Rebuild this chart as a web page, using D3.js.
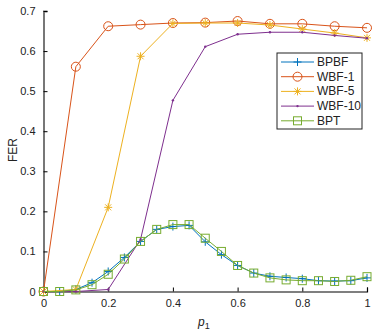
<!DOCTYPE html>
<html>
<head>
<meta charset="utf-8">
<script src="https://cdn.jsdelivr.net/npm/d3@7"></script>
<style>
  body { margin: 0; background: #fff; }
  svg { font-family: "Liberation Sans", Arial, sans-serif; }
</style>
</head>
<body>
<svg class="chart" width="372" height="333"></svg>
<script>
"use strict";

// p1 grids
let pFine = [0, 0.05, 0.1, 0.15, 0.2, 0.25, 0.3, 0.35, 0.4, 0.45, 0.5,
  0.55, 0.6, 0.65, 0.7, 0.75, 0.8, 0.85, 0.9, 0.95, 1];
let pCoarse = [0, 0.1, 0.2, 0.3, 0.4, 0.5, 0.6, 0.7, 0.8, 0.9, 1];

// FER per method
let bpbf = [0, 0, 0.005, 0.022, 0.05, 0.085, 0.125, 0.155, 0.162, 0.165, 0.124,
  0.092, 0.065, 0.046, 0.038, 0.035, 0.032, 0.027, 0.026, 0.027, 0.034];
let wbf1 = [0, 0.561, 0.662, 0.666, 0.670, 0.671, 0.675, 0.668, 0.668, 0.662, 0.658];
let wbf5 = [0, 0.005, 0.21, 0.587, 0.669, 0.670, 0.670, 0.665, 0.655, 0.645, 0.633];
let wbf10 = [0, 0, 0.005, 0.13, 0.477, 0.611, 0.642, 0.647, 0.647, 0.639, 0.632];
let bpt = [0, 0, 0.004, 0.017, 0.043, 0.081, 0.125, 0.155, 0.167, 0.167, 0.133,
  0.1, 0.065, 0.046, 0.034, 0.029, 0.027, 0.027, 0.025, 0.028, 0.037];

let xTicks = [0, 0.2, 0.4, 0.6, 0.8, 1];
let yTicks = [0, 0.1, 0.2, 0.3, 0.4, 0.5, 0.6, 0.7];

let series = [
  { name: 'BPBF', xs: pFine, ys: bpbf, color: '#0072BD', marker: 'plus' },
  { name: 'WBF-1', xs: pCoarse, ys: wbf1, color: '#D95319', marker: 'circle' },
  { name: 'WBF-5', xs: pCoarse, ys: wbf5, color: '#EDB120', marker: 'star' },
  { name: 'WBF-10', xs: pCoarse, ys: wbf10, color: '#7E2F8E', marker: 'dot' },
  { name: 'BPT', xs: pFine, ys: bpt, color: '#77AC30', marker: 'square' }
];

let svg = d3.select('.chart');

let x = d3.scaleLinear().domain([0, 1]).range([43.5, 367]);
let y = d3.scaleLinear().domain([0, 0.7]).range([291.5, 11]);

// axes (MATLAB style: ticks inside)
let xAxis = svg.append('g')
  .attr('transform', 'translate(0,' + y(0) + ')')
  .call(d3.axisBottom(x).tickValues(xTicks).tickSize(-4).tickPadding(8)
    .tickFormat(d => d === 0 || d === 1 ? d3.format('d')(d) : d3.format('.1f')(d)));
xAxis.select('.domain').attr('stroke', '#000').attr('stroke-width', 1.2);
xAxis.selectAll('text').attr('font-size', 11).attr('fill', '#222');

let yAxis = svg.append('g')
  .attr('transform', 'translate(' + x(0) + ',0)')
  .call(d3.axisLeft(y).tickValues(yTicks).tickSize(-4).tickPadding(8)
    .tickFormat(d => d === 0 ? '0' : d3.format('.1f')(d)));
yAxis.select('.domain').attr('stroke', '#777').attr('stroke-width', 2);
yAxis.selectAll('text').attr('font-size', 11).attr('fill', '#222');

svg.append('text')
  .attr('transform', 'translate(17,150) rotate(-90)')
  .attr('text-anchor', 'middle')
  .attr('font-size', 12)
  .attr('fill', '#222')
  .text('FER');

let xl = svg.append('text')
  .attr('x', 198)
  .attr('y', 326)
  .attr('font-size', 12)
  .attr('fill', '#222');
xl.append('tspan').attr('font-style', 'italic').text('p');
xl.append('tspan').attr('font-size', 9).attr('dy', 3).text('1');

let drawMarker = (g, type, color) => {
  if (type === 'circle') {
    g.append('circle').attr('r', 4.5).attr('fill', 'none').attr('stroke', color);
  } else if (type === 'square') {
    g.append('rect').attr('x', -4).attr('y', -4).attr('width', 8).attr('height', 8)
      .attr('fill', 'none').attr('stroke', color);
  } else if (type === 'plus') {
    g.append('path').attr('d', 'M-4,0H4M0,-4V4').attr('stroke', color);
  } else if (type === 'star') {
    g.append('path').attr('d', 'M-4,0H4M0,-4V4M-3,-3L3,3M-3,3L3,-3').attr('stroke', color);
  } else if (type === 'dot') {
    g.append('circle').attr('r', 1.2).attr('fill', color);
  }
};

let line = d3.line().x(d => x(d[0])).y(d => y(d[1]));

series.forEach(s => {
  let pts = s.xs.map((v, i) => [v, s.ys[i]]);
  let g = svg.append('g');
  g.append('path')
    .attr('d', line(pts))
    .attr('fill', 'none')
    .attr('stroke', s.color)
    .attr('stroke-width', 1);
  pts.forEach(p => {
    let m = g.append('g').attr('transform', 'translate(' + x(p[0]) + ',' + y(p[1]) + ')');
    drawMarker(m, s.marker, s.color);
  });
});

// legend
let legend = svg.append('g').attr('transform', 'translate(277,53)');
legend.append('rect')
  .attr('width', 85).attr('height', 76)
  .attr('fill', '#fff').attr('stroke', '#222').attr('stroke-width', 1);
series.forEach((s, i) => {
  let ly = 9 + i * 14.7;
  legend.append('line')
    .attr('x1', 4).attr('x2', 37).attr('y1', ly).attr('y2', ly)
    .attr('stroke', s.color);
  let m = legend.append('g').attr('transform', 'translate(20.5,' + ly + ')');
  drawMarker(m, s.marker, s.color);
  legend.append('text')
    .attr('x', 40).attr('y', ly + 4)
    .attr('font-size', 12)
    .attr('fill', '#222')
    .text(s.name);
});
</script>
</body>
</html>
